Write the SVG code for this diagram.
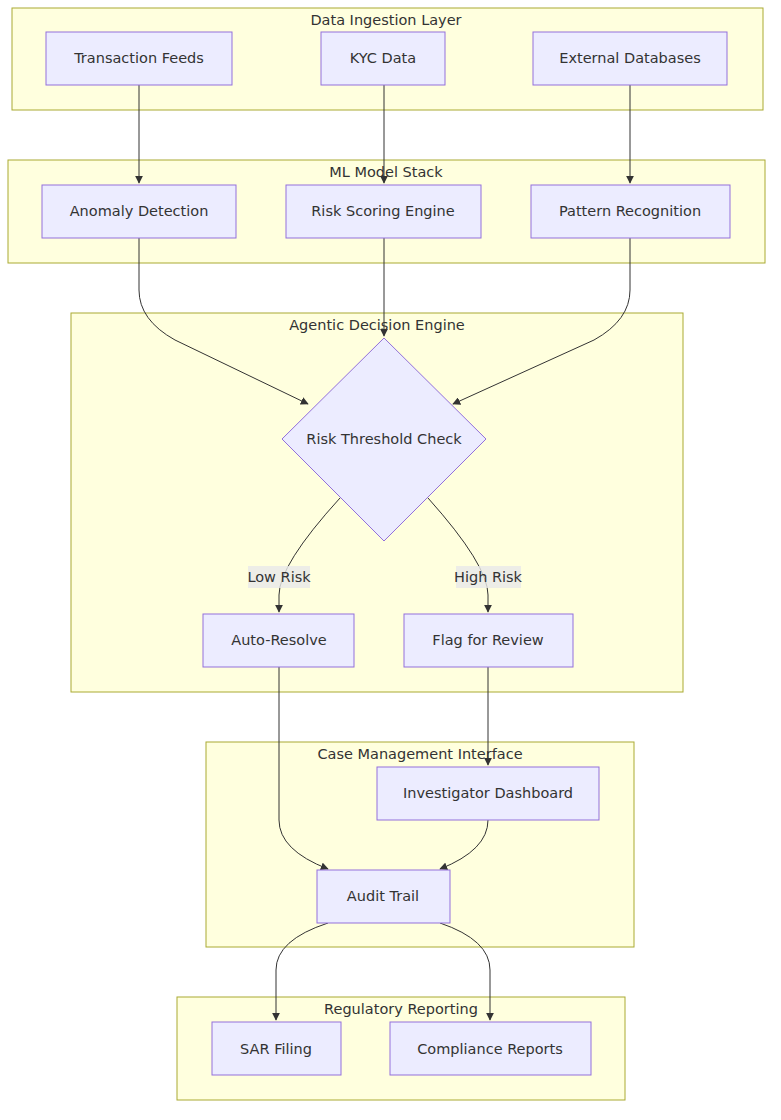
<svg xmlns="http://www.w3.org/2000/svg" width="781" height="1120" viewBox="0 0 781 1120">
<style>
.c{fill:#ffffde;stroke:#aaaa33;stroke-width:1}
.n{fill:#ececff;stroke:#9370db;stroke-width:1}
text{font-family:"DejaVu Sans","Liberation Sans",sans-serif;font-size:14.5px;fill:#333;text-anchor:middle;dominant-baseline:central}
.e{fill:none;stroke:#333;stroke-width:1}
.lb{fill:#e8e8e8;opacity:0.8}
</style>
<defs><marker id="a" viewBox="0 0 10 10" refX="9" refY="5" markerWidth="8" markerHeight="8" orient="auto"><path d="M0,0L10,5L0,10z" fill="#333"/></marker></defs>
<rect width="781" height="1120" fill="#fff"/>
<g id="clusters">
<g id="c1"><rect class="c" x="12" y="8" width="751" height="102"/><text x="386" y="20">Data Ingestion Layer</text></g>
<g id="c2"><rect class="c" x="8" y="160" width="757" height="103"/><text x="386" y="172">ML Model Stack</text></g>
<g id="c3"><rect class="c" x="71" y="313" width="612" height="379"/><text x="377" y="325">Agentic Decision Engine</text></g>
<g id="c4"><rect class="c" x="206" y="742" width="428" height="205"/><text x="420" y="754">Case Management Interface</text></g>
<g id="c5"><rect class="c" x="177" y="997" width="448" height="103"/><text x="401" y="1009">Regulatory Reporting</text></g>
</g>
<g id="edges">
<path class="e" d="M139,85V183" marker-end="url(#a)"/>
<path class="e" d="M384,85V183" marker-end="url(#a)"/>
<path class="e" d="M630,85V183" marker-end="url(#a)"/>
<path class="e" d="M384,238V336" marker-end="url(#a)"/>
<path class="e" d="M139,238V290Q139,320 175,340L308,404" marker-end="url(#a)"/>
<path class="e" d="M630,238V290Q630,320 594,340L453,404" marker-end="url(#a)"/>
<path class="e" d="M340,498Q279,565 279,595V612" marker-end="url(#a)"/>
<path class="e" d="M428,498Q488,565 488,595V612" marker-end="url(#a)"/>
<path class="e" d="M279,667V820Q279,850 328,869" marker-end="url(#a)"/>
<path class="e" d="M488,667V765" marker-end="url(#a)"/>
<path class="e" d="M488,820Q488,850 440,869" marker-end="url(#a)"/>
<path class="e" d="M328,923Q276,940 276,970V1020" marker-end="url(#a)"/>
<path class="e" d="M440,923Q490,940 490,970V1020" marker-end="url(#a)"/>
<rect class="lb" x="248" y="566" width="62" height="22"/><text x="279" y="577">Low Risk</text>
<rect class="lb" x="456" y="566" width="65" height="22"/><text x="488" y="577">High Risk</text>
</g>
<g id="n1"><rect class="n" x="46" y="32" width="186" height="53"/><text x="139" y="58">Transaction Feeds</text></g>
<g id="n2"><rect class="n" x="321" y="32" width="124" height="53"/><text x="383" y="58">KYC Data</text></g>
<g id="n3"><rect class="n" x="533" y="32" width="194" height="53"/><text x="630" y="58">External Databases</text></g>
<g id="n4"><rect class="n" x="42" y="185" width="194" height="53"/><text x="139" y="211">Anomaly Detection</text></g>
<g id="n5"><rect class="n" x="286" y="185" width="195" height="53"/><text x="383" y="211">Risk Scoring Engine</text></g>
<g id="n6"><rect class="n" x="531" y="185" width="199" height="53"/><text x="630" y="211">Pattern Recognition</text></g>
<g id="n7"><polygon class="n" points="384,338 486,439 384,541 282,439"/><text x="384" y="439">Risk Threshold Check</text></g>
<g id="n8"><rect class="n" x="203" y="614" width="151" height="53"/><text x="279" y="640">Auto-Resolve</text></g>
<g id="n9"><rect class="n" x="404" y="614" width="169" height="53"/><text x="488" y="640">Flag for Review</text></g>
<g id="n10"><rect class="n" x="377" y="767" width="222" height="53"/><text x="488" y="793">Investigator Dashboard</text></g>
<g id="n11"><rect class="n" x="317" y="870" width="133" height="53"/><text x="383" y="896">Audit Trail</text></g>
<g id="n12"><rect class="n" x="212" y="1022" width="129" height="53"/><text x="276" y="1049">SAR Filing</text></g>
<g id="n13"><rect class="n" x="390" y="1022" width="201" height="53"/><text x="490" y="1049">Compliance Reports</text></g>
</svg>
